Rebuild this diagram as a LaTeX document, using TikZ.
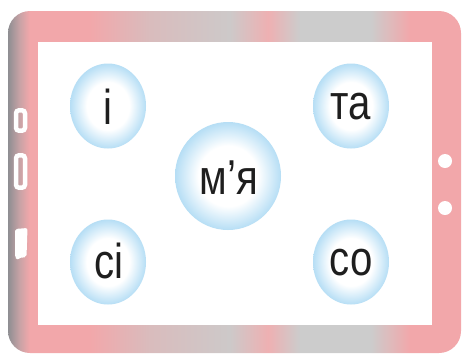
\documentclass[tikz,border=0pt]{standalone}
\usepackage{fontspec}
\usetikzlibrary{shapes.geometric}
\newfontfamily\bubblefont[FakeStretch=0.82]{Liberation Sans}
\definecolor{fgA}{HTML}{8E8E92}
\definecolor{fgB}{HTML}{C9A3A6}
\definecolor{fpink}{HTML}{F2A7AA}
\definecolor{fmix}{HTML}{D9BCBD}
\definecolor{fgray}{HTML}{CDC9C9}
\definecolor{fspot}{HTML}{EEB0B2}
\definecolor{fgray2}{HTML}{CCCCCC}
\definecolor{bubbleblue}{HTML}{B6DEF5}
\definecolor{txt}{HTML}{1E1E1E}
\pgfdeclarehorizontalshading{framesh}{100bp}{color(0bp)=(fgA); color(25bp)=(fgA); color(26.3bp)=(fgB); color(27.4bp)=(fpink); color(34bp)=(fpink); color(40.7bp)=(fmix); color(49.5bp)=(fgray); color(53.7bp)=(fspot); color(57.2bp)=(fgray2); color(65bp)=(fgray2); color(69.4bp)=(fpink); color(75bp)=(fpink); color(100bp)=(fpink)}
\pgfdeclareradialshading{bubblesh}{\pgfpoint{0bp}{0bp}}{color(0bp)=(white); color(14bp)=(white); color(25bp)=(bubbleblue); color(50bp)=(bubbleblue)}
\tikzset{
  bubble/.style={ellipse, shading=bubblesh, inner sep=0pt},
  word/.style={anchor=base, inner sep=0pt, text=txt, font=\bubblefont\fontsize{49}{49}\selectfont},
  btn/.style={draw=white, line width=4.5pt, rounded corners=3pt},
  dot/.style={circle, fill=white, minimum size=14pt, inner sep=0pt}
}
\begin{document}
\begin{tikzpicture}[x=1pt,y=-1pt]
\useasboundingbox (0,0) rectangle (462,354);
% frame
\shade[shading=framesh, rounded corners=22pt] (8,11) rectangle (461,353);
\fill[white] (38,42) rectangle (432,325);
% side buttons
\draw[btn] (16,110.3) rectangle (25,130.7);
\draw[btn] (16,155.3) rectangle (25,187.7);
\fill[white, rounded corners=2pt] (15,229) -- (27.5,228) -- (26.5,257) -- (19,258) -- (17,260) -- (15,257) -- cycle;
\node[dot] (d1) at (445,161) {};
\node[dot] (d2) at (445,208) {};
% bubbles
\node[bubble, minimum width=76pt, minimum height=85pt] (b1) at (108,106) {};
\node[bubble, minimum width=76pt, minimum height=85pt] (b2) at (351,106) {};
\node[bubble, minimum width=106pt, minimum height=108pt] (b3) at (228,176) {};
\node[bubble, minimum width=76pt, minimum height=85pt] (b4) at (108,262) {};
\node[bubble, minimum width=76pt, minimum height=85pt] (b5) at (351,262) {};
% words
\node[word] (w1) at (108,124) {і};
\node[word] (w2) at (351,119) {та};
\node[word] (w3) at (229,194) {м’я};
\node[word] (w4) at (109,278) {сі};
\node[word] (w5) at (351,275) {со};
\end{tikzpicture}
\end{document}
